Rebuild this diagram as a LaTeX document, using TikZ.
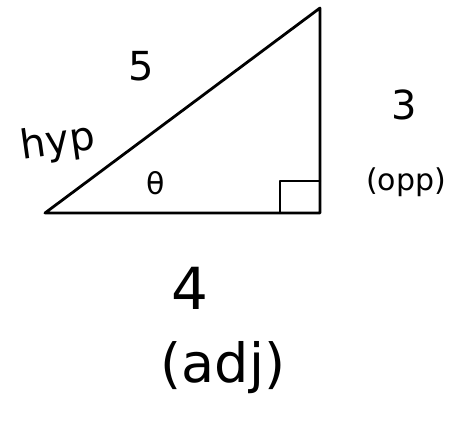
\documentclass[tikz,border=0pt]{standalone}
\usepackage{fontspec}
\setsansfont{DejaVu Sans}
\usetikzlibrary{positioning}

\begin{document}
\begin{tikzpicture}[
  x=1pt, y=-1pt,
  side/.style={line width=2.8pt, line join=round, line cap=round},
  lbl/.style={font=\sffamily\fontsize{40}{44}\selectfont, inner sep=0pt},
  small/.style={font=\sffamily\fontsize{30}{34}\selectfont, inner sep=0pt}
]
\useasboundingbox (0,0) rectangle (467,437);
% corners of the triangle
\coordinate (A) at (45,213);
\coordinate (B) at (320,213);
\coordinate (C) at (320,8);
\draw[side] (A) -- (B) -- (C) -- cycle;
% right angle mark
\draw[side, line width=2.4pt] (280,213) -- (280,181) -- (320,181);
% labels
\node[lbl] (hypval) at (141,66) {5};
\node[small, font=\sffamily\fontsize{40}{44}\selectfont, rotate=8] (hyp) at (58,143) {hyp};
\node[small] (theta) at (156,183) {θ};
\node[lbl] (oppval) at (404,105) {3};
\node[small] (opp) at (406,182) {(opp)};
\node[lbl, font=\sffamily\fontsize{58}{60}\selectfont] (adjval) at (190,288) {4};
\node[lbl, font=\sffamily\fontsize{54}{58}\selectfont] (adj) at (223,368) {(adj)};
\end{tikzpicture}
\end{document}
